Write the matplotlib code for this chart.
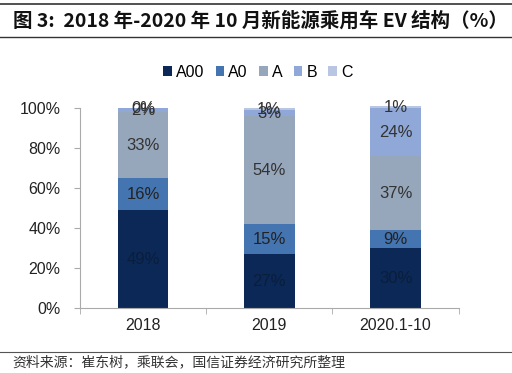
import matplotlib
matplotlib.use('Agg')
import matplotlib.pyplot as plt
import numpy as np

plt.rcParams['font.family'] = ['Liberation Sans', 'Noto Sans CJK SC', 'DejaVu Sans']

years = ["2018", "2019", "2020.1-10"]
segments = ["A00", "A0", "A", "B", "C"]
a00 = [49, 27, 30]
a0 = [16, 15, 9]
a = [33, 54, 37]
b = [2, 3, 24]
c = [0, 1, 1]
colors = ["#0b2856", "#4575b1", "#97a7bb", "#8fa8d7", "#b8c6e3"]
label_colors = ["#0a1e3c", "#222222", "#333333", "#333333", "#333333"]

fig = plt.figure(figsize=(5.12, 3.73), dpi=100)
ax = fig.add_axes([0.156, 0.174, 0.740, 0.536])

x = np.arange(len(years))
bottom = np.zeros(len(years))
for name, vals, col, lc in zip(segments, [a00, a0, a, b, c], colors, label_colors):
    vals = np.array(vals, dtype=float)
    ax.bar(x, vals, 0.4, bottom=bottom, color=col, label=name, clip_on=False)
    for xi, v, b0 in zip(x, vals, bottom):
        ax.text(xi, b0 + v / 2, "%d%%" % v, ha='center', va='center',
                fontsize=12, color=lc)
    bottom += vals

ax.set_xlim(-0.5, 2.5)
ax.set_ylim(0, 100)
ax.set_yticks(range(0, 101, 20))
ax.set_yticklabels(["%d%%" % t for t in range(0, 101, 20)], fontsize=11.5, color="#222222")
ax.set_xticks(x)
ax.set_xticklabels(years, fontsize=11.5, color="#222222")
ax.set_xticks([-0.5, 0.5, 1.5, 2.5], minor=True)
ax.tick_params(axis='x', which='major', length=0, pad=7)
ax.tick_params(axis='x', which='minor', length=4, color="#aaaaaa", direction='out')
ax.tick_params(axis='y', length=4, color="#aaaaaa", direction='out', pad=10)
for s in ['top', 'right']:
    ax.spines[s].set_visible(False)
for s in ['left', 'bottom']:
    ax.spines[s].set_color("#aaaaaa")

ax.legend(loc='center', bbox_to_anchor=(0.47, 1.18), ncol=5, frameon=False,
          fontsize=11.5, handlelength=0.55, handleheight=0.55, handletextpad=0.25,
          columnspacing=0.7)

# title and source
fig.add_artist(plt.Line2D([0, 1], [0.989, 0.989], color="#333333", lw=1.2))
fig.add_artist(plt.Line2D([0, 1], [0.900, 0.900], color="#333333", lw=1.0))
fig.text(0.025, 0.945, "图 3:  2018 年-2020 年 10 月新能源乘用车 EV 结构（%）",
         fontsize=14, fontweight='bold', va='center', ha='left',
         family=['Noto Sans CJK SC', 'DejaVu Sans'], color="#111111")
fig.add_artist(plt.Line2D([0, 1], [0.056, 0.056], color="#555555", lw=0.8))
fig.text(0.025, 0.028, "资料来源：崔东树，乘联会，国信证券经济研究所整理",
         fontsize=10, va='center', ha='left',
         family=['Noto Sans CJK SC', 'DejaVu Sans'], color="#333333")

fig.savefig("out.png", dpi=100)
